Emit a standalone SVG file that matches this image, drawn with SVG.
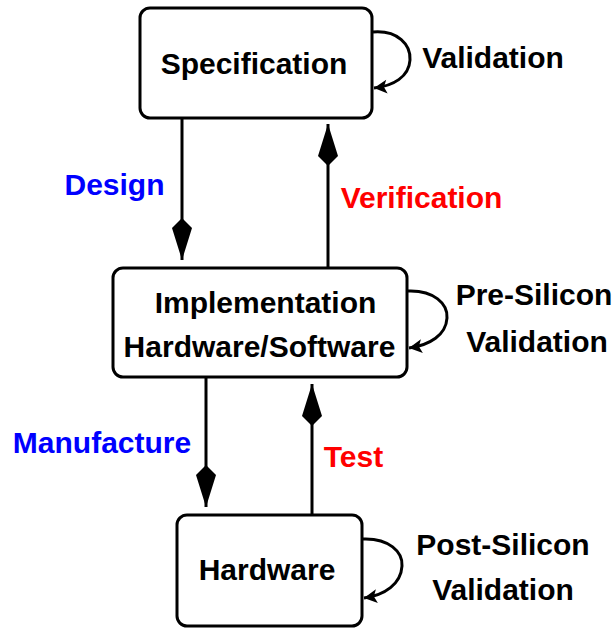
<svg xmlns="http://www.w3.org/2000/svg" width="616" height="629" viewBox="0 0 616 629">
  <style>
    .box { fill: #ffffff; stroke: #000000; stroke-width: 3; }
    .lbl { font-family: "Liberation Sans", Arial, sans-serif; font-weight: bold; font-size: 30px; text-anchor: middle; fill: #000000; }
    .blue { fill: #0000ff; }
    .red { fill: #ff0000; }
    .edge { fill: none; stroke: #000000; stroke-width: 3; }
  </style>
  <defs>
    <marker id="kite" markerUnits="userSpaceOnUse" markerWidth="50" markerHeight="26" viewBox="-44 -13 50 26" refX="0" refY="0" orient="auto">
      <path d="M0,0 L-32,-10 L-42,0 L-32,10 Z" fill="#000000"/>
    </marker>
    <marker id="head" markerUnits="userSpaceOnUse" markerWidth="18" markerHeight="18" viewBox="-15 -9 18 18" refX="0" refY="0" orient="auto">
      <path d="M0,0 L-13,-7 L-10,0 L-13,7 Z" fill="#000000"/>
    </marker>
  </defs>

  <!-- connectors -->
  <g id="connectors">
    <path class="edge" d="M182,118 L182,260" marker-end="url(#kite)"/>
    <path class="edge" d="M328,268 L328,124" marker-end="url(#kite)"/>
    <path class="edge" d="M206,377 L206,507" marker-end="url(#kite)"/>
    <path class="edge" d="M312,515 L312,384" marker-end="url(#kite)"/>
    <path class="edge" d="M373,32 C398,30 411,45 410,60 C409,77 393,86 374,88" marker-end="url(#head)"/>
    <path class="edge" d="M408,291 C434,290 448,304 447,318 C446,335 430,345 409,348" marker-end="url(#head)"/>
    <path class="edge" d="M363,539 C389,538 403,552 402,566 C401,584 385,595 364,598" marker-end="url(#head)"/>
    <text class="lbl blue" x="114.5" y="195">Design</text>
    <text class="lbl red" x="421.5" y="208">Verification</text>
    <text class="lbl blue" x="102" y="453">Manufacture</text>
    <text class="lbl red" x="353.5" y="467">Test</text>
    <text class="lbl" x="493" y="68">Validation</text>
    <text class="lbl" x="534" y="305">Pre-Silicon</text>
    <text class="lbl" x="537" y="352">Validation</text>
    <text class="lbl" x="503" y="555">Post-Silicon</text>
    <text class="lbl" x="503" y="600">Validation</text>
  </g>

  <!-- nodes -->
  <g id="specification">
    <rect class="box" x="140" y="8" width="232" height="110" rx="10"/>
    <text class="lbl" x="254" y="74">Specification</text>
  </g>
  <g id="implementation">
    <rect class="box" x="113" y="268" width="294" height="109" rx="10"/>
    <text class="lbl" x="265.5" y="313">Implementation</text>
    <text class="lbl" x="259.5" y="357">Hardware/Software</text>
  </g>
  <g id="hardware">
    <rect class="box" x="177" y="515" width="185" height="111" rx="10"/>
    <text class="lbl" x="267" y="580">Hardware</text>
  </g>
</svg>
